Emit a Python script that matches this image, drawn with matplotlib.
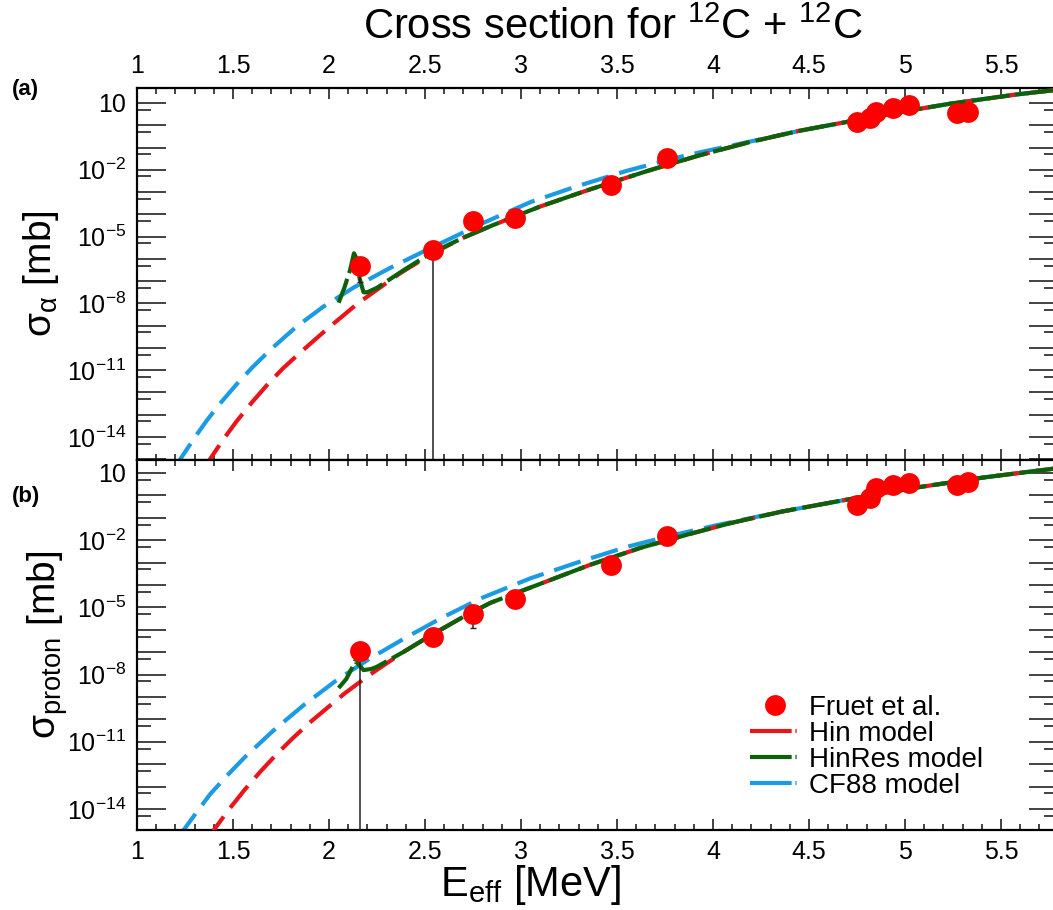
import numpy as np
import matplotlib
matplotlib.use("Agg")
import matplotlib.pyplot as plt
from matplotlib.lines import Line2D
from matplotlib.ticker import FixedLocator, FuncFormatter, MultipleLocator, NullFormatter

plt.rcParams['font.family'] = ['Liberation Sans', 'DejaVu Sans']
plt.rcParams['mathtext.fontset'] = 'custom'
plt.rcParams['mathtext.rm'] = 'Liberation Sans'
plt.rcParams['mathtext.it'] = 'Liberation Sans:italic'
plt.rcParams['mathtext.bf'] = 'Liberation Sans:bold'

# Fruet et al. data (log10 of cross section in mb)
fruet_E = [2.16, 2.54, 2.75, 2.97, 3.47, 3.76, 4.75, 4.82, 4.85, 4.94, 5.02, 5.27, 5.33]
alpha_log = [-6.31, -5.62, -4.29, -4.16, -2.68, -1.47, 0.15, 0.33, 0.60, 0.78, 0.91, 0.55, 0.60]
alpha_lo_log = [-7.03, -20.0, -4.29, -4.16, -2.68, -1.47, 0.15, 0.33, 0.60, 0.78, 0.91, 0.55, 0.60]
proton_log = [-6.94, -6.31, -5.28, -4.61, -3.13, -1.83, -0.43, -0.12, 0.33, 0.46, 0.55, 0.46, 0.60]
proton_lo_log = [-20.0, -6.31, -5.90, -4.61, -3.13, -1.83, -0.43, -0.12, 0.33, 0.46, 0.55, 0.46, 0.60]

# model curves, panel (a) alpha channel
cf88_a_E = [1.20, 1.225, 1.30, 1.365, 1.44, 1.52, 1.60, 1.69, 1.76, 1.83, 1.97, 2.13, 2.32, 2.49, 2.63,
            2.80, 3.05, 3.27, 3.55, 3.79, 3.93, 4.19, 4.45, 4.71, 4.97, 5.23, 5.58, 5.80]
cf88_a_log = [-15.35, -15.0, -14.03, -13.24, -12.42, -11.62, -10.88, -10.12, -9.58, -9.05, -8.15, -7.28,
              -6.40, -5.68, -5.1, -4.4, -3.45, -2.8, -2.05, -1.5, -1.22, -0.74, -0.25, 0.17, 0.58, 0.96,
              1.38, 1.6]
hin_a_E = [1.35, 1.38, 1.45, 1.52, 1.60, 1.68, 1.76, 1.85, 1.99, 2.15, 2.37, 2.53, 2.70, 2.85, 3.10, 3.36,
           3.66, 3.93, 4.19, 4.45, 4.71, 4.97, 5.23, 5.58, 5.80]
hin_a_log = [-15.42, -15.0, -14.1, -13.28, -12.43, -11.64, -10.92, -10.21, -9.15, -8.0, -6.65, -5.8, -5.05,
             -4.5, -3.65, -2.88, -2.05, -1.35, -0.76, -0.25, 0.17, 0.58, 0.96, 1.38, 1.6]
hinres_a_E = [2.05, 2.08, 2.11, 2.13, 2.145, 2.16, 2.18, 2.20, 2.25, 2.39, 2.53, 2.70, 2.85, 3.10, 3.36,
              3.66, 3.93, 4.19, 4.45, 4.71, 4.97, 5.23, 5.58, 5.80]
hinres_a_log = [-7.97, -7.3, -6.5, -5.75, -6.0, -6.9, -7.5, -7.5, -7.3, -6.5, -5.75, -5.05, -4.5, -3.65,
                -2.88, -2.05, -1.35, -0.76, -0.25, 0.17, 0.58, 0.96, 1.38, 1.6]

# model curves, panel (b) proton channel
cf88_b_E = [1.22, 1.243, 1.30, 1.38, 1.47, 1.56, 1.71, 1.87, 2.04, 2.21, 2.39, 2.58, 2.79, 3.05, 3.31,
            3.55, 3.79, 4.02, 4.36, 4.71, 5.06, 5.41, 5.80]
cf88_b_log = [-15.23, -14.94, -14.27, -13.35, -12.5, -11.7, -10.5, -9.35, -8.25, -7.3, -6.4, -5.5, -4.6,
              -3.7, -2.95, -2.3, -1.78, -1.33, -0.72, -0.17, 0.35, 0.8, 1.22]
hin_b_E = [1.37, 1.40, 1.48, 1.56, 1.645, 1.73, 1.815, 1.90, 2.08, 2.21, 2.39, 2.53, 2.70, 2.84, 3.10,
           3.36, 3.62, 3.88, 4.10, 4.36, 4.71, 5.06, 5.41, 5.80]
hin_b_log = [-15.37, -14.94, -14.01, -13.15, -12.31, -11.53, -10.81, -10.14, -8.85, -8.02, -6.98, -6.25,
             -5.42, -4.8, -3.95, -3.1, -2.35, -1.72, -1.22, -0.72, -0.17, 0.35, 0.8, 1.22]
hinres_b_E = [2.05, 2.09, 2.12, 2.135, 2.15, 2.18, 2.22, 2.25, 2.39, 2.53, 2.70, 2.84, 3.10, 3.36, 3.62,
              3.88, 4.10, 4.36, 4.71, 5.06, 5.41, 5.80]
hinres_b_log = [-8.6, -8.2, -7.7, -7.4, -7.5, -7.8, -7.75, -7.65, -6.98, -6.25, -5.42, -4.8, -3.95, -3.1,
                -2.35, -1.72, -1.22, -0.72, -0.17, 0.35, 0.8, 1.22]

label_decades = [1, -2, -5, -8, -11, -14]

RED = '#e8151b'
GREEN = '#0b620b'
BLUE = '#1b9be3'
DASH_RB = (0, (6.7, 2.65))
DASH_G = (3, (9.1, 1.45))
LEG_DASH = (0, (10.0, 0.9, 0.3, 0.9))


def tick_label(v, pos):
    e = int(round(np.log10(v)))
    if e not in label_decades:
        return ''
    if e == 1:
        return '10'
    return r'$10^{%d}$' % e


def draw_panel(ax, cf_E, cf_log, hin_E, hin_log, hr_E, hr_log, pt_log, lo_log, ylim):
    ax.plot(cf_E, 10.0 ** np.array(cf_log), color=BLUE, lw=3, ls=DASH_RB, zorder=2)
    ax.plot(hin_E, 10.0 ** np.array(hin_log), color=RED, lw=3, ls=DASH_RB, zorder=3)
    ax.plot(hr_E, 10.0 ** np.array(hr_log), color=GREEN, lw=3, ls=DASH_G, zorder=4)
    y = 10.0 ** np.array(pt_log)
    lo = 10.0 ** np.array(lo_log)
    ax.errorbar(fruet_E, y, yerr=[y - lo, np.zeros_like(y)], fmt='none', ecolor='#222222',
                elinewidth=1.1, capsize=2, zorder=5)
    ax.plot(fruet_E, y, 'o', color='#ff0000', ms=15, mec='none', zorder=6)

    ax.set_yscale('log')
    ax.set_xlim(1.0, 5.797)
    ax.set_ylim(*ylim)
    ax.yaxis.set_major_locator(FixedLocator(10.0 ** np.arange(-16, 3)))
    ax.yaxis.set_major_formatter(FuncFormatter(tick_label))
    ax.yaxis.set_minor_locator(FixedLocator(5 * 10.0 ** np.arange(-17, 2)))
    ax.yaxis.set_minor_formatter(NullFormatter())
    ax.xaxis.set_major_locator(MultipleLocator(0.5))
    ax.xaxis.set_minor_locator(MultipleLocator(0.1))
    ax.xaxis.set_major_formatter(FuncFormatter(lambda v, p: '%g' % v))
    ax.tick_params(axis='both', which='both', direction='in', top=True, right=True,
                   labelsize=18, width=1.2, color='#222222')
    ax.tick_params(axis='y', which='major', length=21, pad=8)
    ax.tick_params(axis='y', which='minor', length=10)
    ax.tick_params(axis='x', which='major', length=8, pad=7)
    ax.tick_params(axis='x', which='minor', length=4)
    for s in ax.spines.values():
        s.set_linewidth(1.6)


fig = plt.figure(figsize=(10.53, 9.10), dpi=100)
ax_a = fig.add_axes([0.1301, 0.4945, 0.8746, 0.4088])
ax_b = fig.add_axes([0.1301, 0.0879, 0.8746, 0.4066])

draw_panel(ax_a, cf88_a_E, cf88_a_log, hin_a_E, hin_a_log, hinres_a_E, hinres_a_log,
           alpha_log, alpha_lo_log, (9.3e-16, 47))
draw_panel(ax_b, cf88_b_E, cf88_b_log, hin_b_E, hin_b_log, hinres_b_E, hinres_b_log,
           proton_log, proton_lo_log, (1.15e-15, 38))

ax_a.tick_params(axis='x', labeltop=True, labelbottom=False)
ax_b.tick_params(axis='x', labeltop=False, labelbottom=True)

ax_a.set_ylabel(r'σ$_{\mathrm{\alpha}}$ [mb]', fontsize=28)
ax_a.yaxis.set_label_coords(-0.082, 0.5)
ax_b.set_ylabel(r'σ$_{\mathrm{proton}}$ [mb]', fontsize=28)
ax_b.yaxis.set_label_coords(-0.073, 0.5)
ax_b.set_xlabel(r'E$_{\mathrm{eff}}$ [MeV]', fontsize=30)
ax_b.xaxis.set_label_coords(0.427, -0.09)

fig.text(0.582, 0.969, r'Cross section for $^{12}$C + $^{12}$C', fontsize=30, ha='center', va='center')
fig.text(0.011, 0.902, '(a)', fontsize=16, fontweight='bold', ha='left', va='center')
fig.text(0.011, 0.454, '(b)', fontsize=16, fontweight='bold', ha='left', va='center')

handles = [
    Line2D([], [], ls='none', marker='o', color='#ff0000', ms=15, mec='none'),
    Line2D([], [], color=RED, lw=3, ls=LEG_DASH),
    Line2D([], [], color=GREEN, lw=3, ls=LEG_DASH),
    Line2D([], [], color=BLUE, lw=3, ls=LEG_DASH),
]
labels = ['Fruet et al.', 'Hin model', 'HinRes model', 'CF88 model']
ax_b.legend(handles, labels, loc='upper left', bbox_to_anchor=(0.666, 0.366), frameon=False,
            fontsize=20, handlelength=1.75, handletextpad=0.35, labelspacing=0.0,
            borderpad=0, borderaxespad=0)

fig.savefig('out.png', dpi=100)
